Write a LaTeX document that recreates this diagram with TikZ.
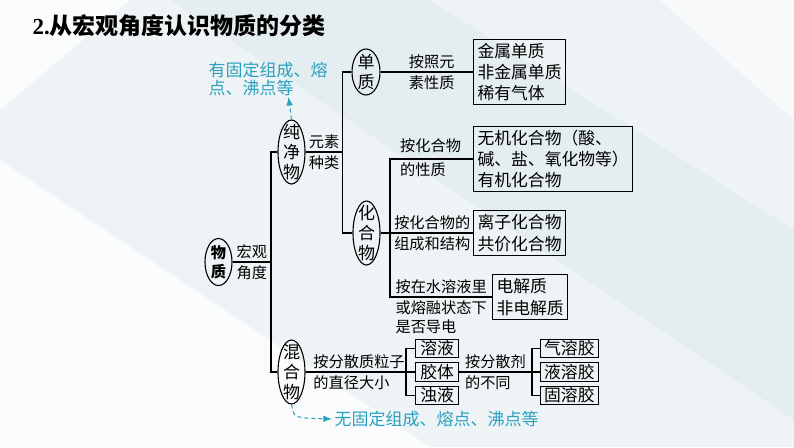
\documentclass[tikz,border=0pt]{standalone}
\usepackage{fontspec}
\setmainfont{Liberation Serif}
\newfontfamily\cjk{Noto Sans CJK SC}
\usepackage{tikz}
\usetikzlibrary{shapes.geometric,calc}
\definecolor{noteblue}{RGB}{42,160,192}
\definecolor{bgpale}{RGB}{238,244,245}
\definecolor{bgband}{RGB}{222,235,238}
\tikzstyle{ell}=[ellipse,draw,inner sep=0pt,minimum width=13.5pt,font=\cjk\fontsize{8.5}{9.3}\selectfont]
\tikzstyle{box}=[draw,align=left,inner xsep=2pt,inner ysep=1.8pt,font=\cjk\fontsize{8.4}{10.7}\selectfont]
\tikzstyle{sbox}=[draw,inner xsep=1.8pt,inner ysep=0.8pt,minimum width=21.5pt,font=\cjk\fontsize{8.4}{10}\selectfont]
\tikzstyle{lab}=[inner sep=1.5pt,font=\cjk\fontsize{7.6}{9.5}\selectfont]
\tikzstyle{note}=[noteblue,inner sep=0pt,align=left,font=\cjk\fontsize{8.5}{9}\selectfont]
\tikzstyle{notearrow}=[noteblue,line width=0.5pt,dash pattern=on 2pt off 1.5pt,-latex]
\newcommand{\vt}[1]{\smash{\makebox[0pt]{\raisebox{-3pt}{\begin{tabular}{@{}c@{}}#1\end{tabular}}}}}

\begin{document}
\begin{tikzpicture}[x=0.5pt,y=-0.5pt,line width=0.55pt]
          \useasboundingbox (0,0) rectangle (794,447);
          \fill[bgpale] (0,0) rectangle (794,447);
          \fill[white,opacity=0.8] (0,0) -- (130,0) -- (0,110) -- cycle;
          \fill[white,opacity=0.7] (0,160) -- (430,447) -- (0,447) -- cycle;
          \fill[bgband,opacity=0.6] (170,0) -- (430,0) -- (794,230) -- (794,420) -- cycle;
          \fill[white,opacity=0.6] (660,0) -- (794,0) -- (794,120) -- cycle;

          \node[anchor=base west,inner sep=0pt] (title) at (32,34) {\fontsize{11.5}{13}\selectfont\bfseries 2.{\cjk 从宏观角度认识物质的分类}};

          \node[ell,minimum height=23.5pt,font=\cjk\bfseries\fontsize{7.6}{9.5}\selectfont] (wuzhi) at (218.5,262) {\vt{物\\质}};
          \node[ell,minimum height=32pt] (chunjing) at (291.5,152) {\vt{纯\\净\\物}};
          \node[ell,minimum height=23pt,minimum width=14pt] (danzhi) at (366,72) {\vt{单\\质}};
          \node[ell,minimum height=32pt] (huahe) at (366.5,233) {\vt{化\\合\\物}};
          \node[ell,minimum height=32pt] (hunhe) at (291.5,372) {\vt{混\\合\\物}};

          \node[box,anchor=west] (dzbox) at (473,72) {金属单质\\非金属单质\\稀有气体};
          \node[box,anchor=west] (xzbox) at (473,159) {无机化合物（酸、\\碱、盐、氧化物等）\\有机化合物};
          \node[box,anchor=west] (lzbox) at (473,233) {离子化合物\\共价化合物};
          \node[box,anchor=west] (djbox) at (492,297) {电解质\\非电解质};
          \node[sbox,anchor=west] (rongye) at (415,348.5) {溶液};
          \node[sbox,anchor=west] (jiaoti) at (415,372) {胶体};
          \node[sbox,anchor=west] (zhuoye) at (415,395.5) {浊液};
          \node[sbox,anchor=west] (qirj) at (540,348.5) {气溶胶};
          \node[sbox,anchor=west] (yerj) at (540,372) {液溶胶};
          \node[sbox,anchor=west] (gurj) at (540,395.5) {固溶胶};

          \coordinate (t1) at (271,262);
          \coordinate (t2) at (342.5,152);
          \coordinate (t3) at (390,233);
          \coordinate (b1) at (406,372);
          \coordinate (b2) at (532,372);

          \draw (wuzhi) -- (t1) node[lab,midway,above]{宏观} node[lab,midway,below]{角度};
          \draw (chunjing) -| (t1) |- (hunhe);
          \draw (chunjing) -- (t2) node[lab,midway,above]{元素} node[lab,midway,below]{种类};
          \draw (danzhi) -| (t2) |- (huahe);
          \draw (danzhi) -- (dzbox) node[lab,midway,above,xshift=2.5pt]{按照元} node[lab,midway,below,xshift=2.5pt]{素性质};
          \draw (huahe) -- (lzbox) node[lab,pos=0.11,above right]{按化合物的} node[lab,pos=0.11,below right]{组成和结构};
          \draw (xzbox.west) -| (t3) |- (djbox.west);
          \path (t3 |- xzbox.west) -- (xzbox.west) node[lab,pos=0.08,above right,yshift=1.5pt]{按化合物} node[lab,pos=0.08,below right]{的性质};
          \path (t3 |- djbox.west) -- (djbox.west) node[lab,pos=0.02,above right]{按在水溶液里} node[lab,pos=0.02,below right,align=left]{或熔融状态下\\是否导电};
          \draw (hunhe) -- (jiaoti) node[lab,pos=0.04,above right]{按分散质粒子} node[lab,pos=0.04,below right]{的直径大小};
          \draw (rongye.west) -| (b1) |- (zhuoye.west);
          \draw (jiaoti) -- (yerj) node[lab,pos=0.03,above right]{按分散剂} node[lab,pos=0.03,below right]{的不同};
          \draw (qirj.west) -| (b2) |- (gurj.west);

          \node[note,anchor=north west] (note1) at (208,62) {有固定组成、熔\\点、沸点等};
          \node[note,anchor=west,inner sep=1pt] (note2) at (332,419) {无固定组成、熔点、沸点等};
          \draw[notearrow] (chunjing.north) -- ($(chunjing.north |- note1.south)+(-3,0)$);
          \draw[notearrow] (hunhe.south) .. controls (294,418) .. (note2.west);
        \end{tikzpicture}
\end{document}
